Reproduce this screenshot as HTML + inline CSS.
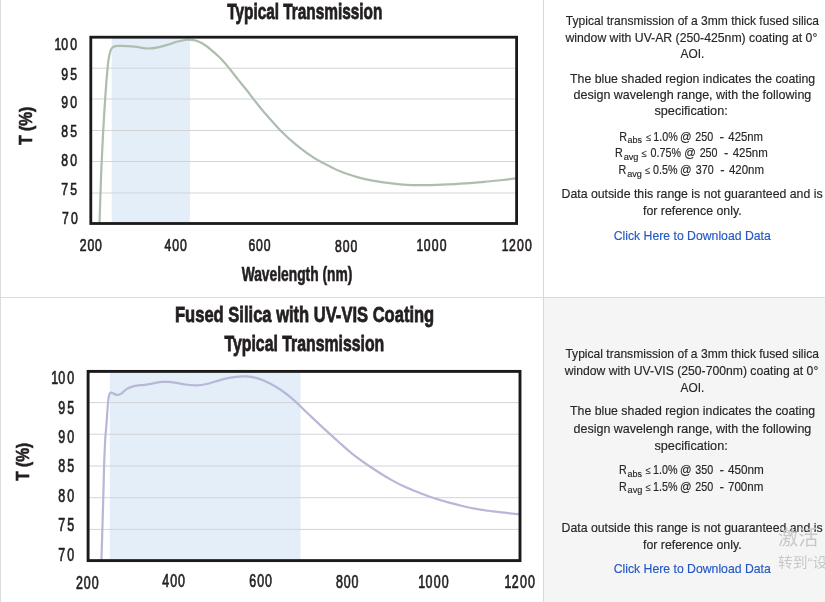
<!DOCTYPE html>
<html lang="en"><head><meta charset="utf-8"><title>Typical Transmission</title>
<style>
html,body{margin:0;padding:0;background:#fff}
body{width:825px;height:602px;position:relative;overflow:hidden;font-family:"Liberation Sans","Noto Sans CJK SC",sans-serif}
.vl,.hl,.bg{position:absolute}
.wm{position:absolute;color:#c9c9c9;white-space:nowrap;font-family:"Liberation Sans","Noto Sans CJK SC",sans-serif;line-height:1}
</style></head><body>
<div class="bg" style="left:544px;top:298px;width:281px;height:304px;background:#f5f5f5"></div>
<div class="vl" style="left:0;top:0;width:1px;height:602px;background:#dcdcdc"></div>
<div class="vl" style="left:543px;top:0;width:1px;height:602px;background:#d9d9d9"></div>
<div class="hl" style="left:0;top:297px;width:825px;height:1px;background:#dcdcdc"></div>
<svg width="544" height="602" viewBox="0 0 544 602" style="position:absolute;left:0;top:0" font-family="'Liberation Sans', sans-serif" fill="#231f20">
<rect x="111.7" y="37" width="78.2" height="186.5" fill="#e4eef8"/>
<line x1="91" y1="68.2" x2="516" y2="68.2" stroke="#d3d5d4" stroke-width="1"/>
<line x1="91" y1="99.0" x2="516" y2="99.0" stroke="#d3d5d4" stroke-width="1"/>
<line x1="91" y1="130.5" x2="516" y2="130.5" stroke="#d3d5d4" stroke-width="1"/>
<line x1="91" y1="161.5" x2="516" y2="161.5" stroke="#d3d5d4" stroke-width="1"/>
<line x1="91" y1="193.0" x2="516" y2="193.0" stroke="#d3d5d4" stroke-width="1"/>
<path d="M99.5,223.0C99.7,217.5 100.2,200.3 100.6,190.0C101.0,179.7 101.2,171.4 101.7,161.3C102.2,151.2 102.7,140.2 103.3,129.7C103.9,119.2 104.5,108.6 105.2,98.1C105.9,87.6 107.0,74.0 107.7,66.6C108.4,59.2 108.9,57.0 109.6,53.9C110.3,50.8 111.0,49.5 111.9,48.2C112.8,46.9 113.7,46.5 115.2,46.1C116.7,45.7 117.8,45.8 121.0,45.9C124.2,46.0 129.9,46.3 134.6,46.7C139.3,47.1 144.8,48.5 149.0,48.5C153.2,48.5 156.8,47.5 160.0,46.9C163.2,46.2 165.5,45.5 168.3,44.6C171.1,43.8 173.8,42.6 176.6,41.8C179.4,41.0 182.7,40.4 184.9,40.0C187.1,39.6 188.0,39.5 189.9,39.6C191.8,39.7 194.0,39.9 196.5,40.8C199.0,41.7 202.1,43.2 204.9,45.0C207.7,46.8 210.4,49.2 213.2,51.6C216.0,54.0 218.7,56.4 221.5,59.3C224.3,62.2 227.0,65.6 229.8,69.0C232.6,72.4 235.3,76.1 238.1,79.6C240.9,83.1 243.6,86.3 246.4,89.8C249.2,93.3 251.6,96.7 254.7,100.6C257.8,104.5 260.6,108.2 264.9,113.2C269.2,118.2 275.2,125.2 280.7,130.7C286.2,136.2 292.4,141.8 298.1,146.4C303.8,151.0 309.2,154.9 314.8,158.4C320.4,161.9 327.2,165.1 331.4,167.2C335.6,169.3 335.7,169.5 340.0,171.2C344.3,172.8 351.4,175.4 357.3,177.1C363.2,178.8 369.4,180.0 375.5,181.1C381.6,182.2 387.6,182.9 393.6,183.6C399.7,184.3 405.7,184.8 411.8,185.1C417.9,185.3 423.9,185.2 430.0,185.1C436.1,185.0 442.1,184.7 448.2,184.4C454.3,184.1 460.3,183.7 466.4,183.3C472.4,182.9 478.4,182.4 484.5,181.8C490.6,181.2 497.4,180.6 502.7,180.0C507.9,179.4 513.8,178.6 516.0,178.3" fill="none" stroke="#adbdae" stroke-width="2.2" stroke-linejoin="round"/>
<rect x="90.8" y="37.2" width="425.8" height="186.3" fill="none" stroke="#1a1a1a" stroke-width="2.8"/>
<text x="304.8" y="18.5" font-size="22.5" font-weight="bold" text-anchor="middle" textLength="155.2" lengthAdjust="spacingAndGlyphs" stroke="#231f20" stroke-width="0.8">Typical Transmission</text>
<text transform="translate(0,50.3) scale(0.71,1)" x="81.41 91.13 103.66" y="0" font-size="17.2" text-anchor="middle" stroke="#231f20" stroke-width="0.62" vector-effect="non-scaling-stroke">100</text>
<text transform="translate(0,79.5) scale(0.71,1)" x="91.13 103.66" y="0" font-size="17.2" text-anchor="middle" stroke="#231f20" stroke-width="0.62" vector-effect="non-scaling-stroke">95</text>
<text transform="translate(0,108.1) scale(0.71,1)" x="91.13 103.66" y="0" font-size="17.2" text-anchor="middle" stroke="#231f20" stroke-width="0.62" vector-effect="non-scaling-stroke">90</text>
<text transform="translate(0,137.2) scale(0.71,1)" x="91.13 103.66" y="0" font-size="17.2" text-anchor="middle" stroke="#231f20" stroke-width="0.62" vector-effect="non-scaling-stroke">85</text>
<text transform="translate(0,166.3) scale(0.71,1)" x="91.13 103.66" y="0" font-size="17.2" text-anchor="middle" stroke="#231f20" stroke-width="0.62" vector-effect="non-scaling-stroke">80</text>
<text transform="translate(0,195.0) scale(0.71,1)" x="91.13 103.66" y="0" font-size="17.2" text-anchor="middle" stroke="#231f20" stroke-width="0.62" vector-effect="non-scaling-stroke">75</text>
<text transform="translate(0,224.2) scale(0.71,1)" x="92.25 104.79" y="0" font-size="17.2" text-anchor="middle" stroke="#231f20" stroke-width="0.62" vector-effect="non-scaling-stroke">70</text>
<text transform="translate(0,251.4) scale(0.71,1)" x="117.04 127.89 138.73" y="0" font-size="17.2" text-anchor="middle" stroke="#231f20" stroke-width="0.62" vector-effect="non-scaling-stroke">200</text>
<text transform="translate(0,251.4) scale(0.71,1)" x="236.48 247.32 258.17" y="0" font-size="17.2" text-anchor="middle" stroke="#231f20" stroke-width="0.62" vector-effect="non-scaling-stroke">400</text>
<text transform="translate(0,251.4) scale(0.71,1)" x="354.65 365.49 376.34" y="0" font-size="17.2" text-anchor="middle" stroke="#231f20" stroke-width="0.62" vector-effect="non-scaling-stroke">600</text>
<text transform="translate(0,251.5) scale(0.71,1)" x="476.62 487.46 498.31" y="0" font-size="17.2" text-anchor="middle" stroke="#231f20" stroke-width="0.62" vector-effect="non-scaling-stroke">800</text>
<text transform="translate(0,251.4) scale(0.71,1)" x="591.55 601.55 612.82 624.08" y="0" font-size="17.2" text-anchor="middle" stroke="#231f20" stroke-width="0.62" vector-effect="non-scaling-stroke">1000</text>
<text transform="translate(0,250.6) scale(0.71,1)" x="711.55 721.55 732.82 744.08" y="0" font-size="17.2" text-anchor="middle" stroke="#231f20" stroke-width="0.62" vector-effect="non-scaling-stroke">1200</text>
<text x="297" y="281" font-size="19.3" font-weight="bold" text-anchor="middle" textLength="110.6" lengthAdjust="spacingAndGlyphs" stroke="#231f20" stroke-width="0.6">Wavelength (nm)</text>
<text x="0" y="0" font-size="17.8" font-weight="bold" text-anchor="middle" textLength="38.2" lengthAdjust="spacingAndGlyphs" stroke="#231f20" stroke-width="0.6" transform="translate(31.9,125.8) rotate(-90)">T (%)</text>
<rect x="109.8" y="371.4" width="190.7" height="189.2" fill="#e4eef8"/>
<line x1="88" y1="402.6" x2="520" y2="402.6" stroke="#d2d4d7" stroke-width="1"/>
<line x1="88" y1="434.2" x2="520" y2="434.2" stroke="#d2d4d7" stroke-width="1"/>
<line x1="88" y1="466.0" x2="520" y2="466.0" stroke="#d2d4d7" stroke-width="1"/>
<line x1="88" y1="497.7" x2="520" y2="497.7" stroke="#d2d4d7" stroke-width="1"/>
<line x1="88" y1="529.4" x2="520" y2="529.4" stroke="#d2d4d7" stroke-width="1"/>
<path d="M101.4,560.5C101.6,555.1 102.1,539.0 102.4,528.4C102.7,517.8 103.0,507.4 103.3,497.0C103.6,486.6 103.8,475.3 104.1,465.8C104.4,456.3 104.9,446.0 105.2,440.0C105.5,434.0 105.7,433.4 106.0,430.0C106.3,426.6 106.5,423.2 106.8,419.8C107.0,416.4 107.2,412.8 107.5,409.8C107.7,406.8 107.9,404.2 108.1,401.9C108.3,399.6 108.6,397.3 108.9,395.9C109.2,394.5 109.5,393.9 109.9,393.4C110.3,392.9 110.8,392.7 111.4,392.7C112.0,392.7 112.7,393.1 113.4,393.4C114.2,393.7 115.1,394.4 115.9,394.6C116.7,394.9 117.3,395.0 118.1,394.9C118.9,394.8 119.9,394.5 120.9,393.9C121.9,393.3 122.9,392.2 123.9,391.4C124.9,390.6 125.7,389.6 126.9,388.9C128.1,388.2 129.2,387.6 130.9,387.1C132.6,386.6 134.5,386.1 136.8,385.7C139.1,385.3 142.5,385.2 144.8,384.9C147.1,384.6 148.8,384.3 150.8,383.9C152.8,383.5 154.8,382.9 156.8,382.6C158.8,382.3 160.7,382.1 162.7,381.9C164.7,381.8 166.6,381.8 168.7,381.9C170.8,382.1 172.2,382.3 175.0,382.7C177.8,383.1 181.8,384.1 185.4,384.5C189.0,384.9 192.8,385.5 196.5,385.4C200.2,385.3 203.0,384.8 207.7,383.7C212.3,382.6 219.3,380.1 224.4,378.9C229.5,377.7 234.6,377.1 238.3,376.7C242.0,376.3 243.4,376.1 246.7,376.4C249.9,376.7 254.1,377.3 257.8,378.4C261.5,379.5 265.3,381.2 269.0,383.1C272.7,385.0 276.5,387.0 280.2,389.5C283.9,392.0 287.6,394.8 291.3,397.9C295.0,401.0 299.6,405.5 302.5,408.3C305.4,411.1 305.5,411.3 308.9,414.5C312.3,417.7 318.2,423.3 322.9,427.6C327.5,431.9 332.1,436.0 336.8,440.2C341.5,444.4 346.2,448.9 350.8,452.7C355.4,456.5 360.1,459.8 364.7,463.0C369.3,466.2 374.0,469.3 378.6,472.2C383.2,475.1 388.0,478.0 392.6,480.6C397.2,483.2 401.9,485.5 406.5,487.6C411.1,489.7 415.9,491.4 420.5,493.2C425.1,495.0 429.8,496.7 434.4,498.2C439.0,499.7 443.6,501.1 448.3,502.4C453.0,503.7 457.7,504.9 462.3,506.0C466.9,507.1 471.6,508.0 476.2,508.8C480.8,509.6 485.5,510.4 490.2,511.0C494.9,511.6 499.2,512.2 504.1,512.7C509.0,513.2 516.9,514.0 519.5,514.2" fill="none" stroke="#b8b7d8" stroke-width="2.2" stroke-linejoin="round"/>
<rect x="88.1" y="371.4" width="431.9" height="189.2" fill="none" stroke="#1a1a1a" stroke-width="2.9"/>
<text x="304.6" y="321.9" font-size="22.8" font-weight="bold" text-anchor="middle" textLength="259.2" lengthAdjust="spacingAndGlyphs" stroke="#231f20" stroke-width="0.8">Fused Silica with UV-VIS Coating</text>
<text x="304.4" y="351" font-size="22.8" font-weight="bold" text-anchor="middle" textLength="159.8" lengthAdjust="spacingAndGlyphs" stroke="#231f20" stroke-width="0.8">Typical Transmission</text>
<text transform="translate(0,383.8) scale(0.71,1)" x="77.06 86.93 99.65" y="0" font-size="17.5" text-anchor="middle" stroke="#231f20" stroke-width="0.62" vector-effect="non-scaling-stroke">100</text>
<text transform="translate(0,413.8) scale(0.71,1)" x="86.93 99.65" y="0" font-size="17.5" text-anchor="middle" stroke="#231f20" stroke-width="0.62" vector-effect="non-scaling-stroke">95</text>
<text transform="translate(0,443.1) scale(0.71,1)" x="86.93 99.65" y="0" font-size="17.5" text-anchor="middle" stroke="#231f20" stroke-width="0.62" vector-effect="non-scaling-stroke">90</text>
<text transform="translate(0,472.4) scale(0.71,1)" x="86.93 99.65" y="0" font-size="17.5" text-anchor="middle" stroke="#231f20" stroke-width="0.62" vector-effect="non-scaling-stroke">85</text>
<text transform="translate(0,501.9) scale(0.71,1)" x="86.93 99.65" y="0" font-size="17.5" text-anchor="middle" stroke="#231f20" stroke-width="0.62" vector-effect="non-scaling-stroke">80</text>
<text transform="translate(0,531.4) scale(0.71,1)" x="86.93 99.65" y="0" font-size="17.5" text-anchor="middle" stroke="#231f20" stroke-width="0.62" vector-effect="non-scaling-stroke">75</text>
<text transform="translate(0,561.0) scale(0.71,1)" x="86.93 99.65" y="0" font-size="17.5" text-anchor="middle" stroke="#231f20" stroke-width="0.62" vector-effect="non-scaling-stroke">70</text>
<text transform="translate(0,589.2) scale(0.71,1)" x="111.95 122.96 133.97" y="0" font-size="17.5" text-anchor="middle" stroke="#231f20" stroke-width="0.62" vector-effect="non-scaling-stroke">200</text>
<text transform="translate(0,587.2) scale(0.71,1)" x="233.50 244.51 255.51" y="0" font-size="17.5" text-anchor="middle" stroke="#231f20" stroke-width="0.62" vector-effect="non-scaling-stroke">400</text>
<text transform="translate(0,587.3) scale(0.71,1)" x="356.03 367.04 378.05" y="0" font-size="17.5" text-anchor="middle" stroke="#231f20" stroke-width="0.62" vector-effect="non-scaling-stroke">600</text>
<text transform="translate(0,588.2) scale(0.71,1)" x="478.01 489.01 500.02" y="0" font-size="17.5" text-anchor="middle" stroke="#231f20" stroke-width="0.62" vector-effect="non-scaling-stroke">800</text>
<text transform="translate(0,588.2) scale(0.71,1)" x="594.10 604.26 615.70 627.14" y="0" font-size="17.5" text-anchor="middle" stroke="#231f20" stroke-width="0.62" vector-effect="non-scaling-stroke">1000</text>
<text transform="translate(0,587.9) scale(0.71,1)" x="715.51 725.67 737.11 748.54" y="0" font-size="17.5" text-anchor="middle" stroke="#231f20" stroke-width="0.62" vector-effect="non-scaling-stroke">1200</text>
<text x="0" y="0" font-size="18.1" font-weight="bold" text-anchor="middle" textLength="38" lengthAdjust="spacingAndGlyphs" stroke="#231f20" stroke-width="0.6" transform="translate(28.6,461.7) rotate(-90)">T (%)</text>
</svg>
<svg width="281" height="602" viewBox="544 0 281 602" style="position:absolute;left:544px;top:0" font-family="'Liberation Sans', sans-serif" font-size="12.2" fill="#262626" stroke="#262626" stroke-width="0.15">
<text x="565.8" y="24.9" textLength="253.2" lengthAdjust="spacingAndGlyphs">Typical transmission of a 3mm thick fused silica</text>
<text x="565.4" y="41.6" textLength="251.9" lengthAdjust="spacingAndGlyphs">window with UV-AR (250-425nm) coating at 0°</text>
<text x="680.5" y="57.8" textLength="23.8" lengthAdjust="spacingAndGlyphs">AOI.</text>
<text x="570" y="82.7" textLength="245.2" lengthAdjust="spacingAndGlyphs">The blue shaded region indicates the coating</text>
<text x="573.5" y="98.7" textLength="237.8" lengthAdjust="spacingAndGlyphs">design wavelengh range, with the following</text>
<text x="654.5" y="115.3" textLength="73.2" lengthAdjust="spacingAndGlyphs">specification:</text>
<text x="561.5" y="198.0" textLength="261.1" lengthAdjust="spacingAndGlyphs">Data outside this range is not guaranteed and is</text>
<text x="643" y="215.0" textLength="98.6" lengthAdjust="spacingAndGlyphs">for reference only.</text>
<text x="613.7" y="240.0" textLength="157.1" lengthAdjust="spacingAndGlyphs" fill="#2458c4" stroke="#2458c4">Click Here to Download Data</text>
<text x="565.4" y="357.7" textLength="253.6" lengthAdjust="spacingAndGlyphs">Typical transmission of a 3mm thick fused silica</text>
<text x="564.7" y="374.5" textLength="253.6" lengthAdjust="spacingAndGlyphs">window with UV-VIS (250-700nm) coating at 0°</text>
<text x="680.6" y="391.5" textLength="23.7" lengthAdjust="spacingAndGlyphs">AOI.</text>
<text x="570" y="415.4" textLength="245.2" lengthAdjust="spacingAndGlyphs">The blue shaded region indicates the coating</text>
<text x="573.5" y="432.6" textLength="237.8" lengthAdjust="spacingAndGlyphs">design wavelengh range, with the following</text>
<text x="654.5" y="449.5" textLength="73.2" lengthAdjust="spacingAndGlyphs">specification:</text>
<text x="561.5" y="531.6" textLength="261.1" lengthAdjust="spacingAndGlyphs">Data outside this range is not guaranteed and is</text>
<text x="643" y="548.8" textLength="98.6" lengthAdjust="spacingAndGlyphs">for reference only.</text>
<text x="613.7" y="573.0" textLength="157.1" lengthAdjust="spacingAndGlyphs" fill="#2458c4" stroke="#2458c4">Click Here to Download Data</text>
<text x="619.24" y="140.7" textLength="7.75" lengthAdjust="spacingAndGlyphs">R</text>
<text x="627.52" y="143.3" font-size="9.6" textLength="14.36" lengthAdjust="spacingAndGlyphs">abs</text>
<text x="646.31" y="140.7" font-size="10.4" textLength="5.02" lengthAdjust="spacingAndGlyphs">≤</text>
<text x="653.24" y="140.7" textLength="24.45" lengthAdjust="spacingAndGlyphs">1.0%</text>
<text x="679.88" y="140.7" textLength="11.6" lengthAdjust="spacingAndGlyphs">@</text>
<text x="695.27" y="140.7" textLength="17.89" lengthAdjust="spacingAndGlyphs">250</text>
<text x="719.64" y="140.7" textLength="4.53" lengthAdjust="spacingAndGlyphs">-</text>
<text x="728.37" y="140.7" textLength="34.66" lengthAdjust="spacingAndGlyphs">425nm</text>
<text x="615.07" y="157.1" textLength="7.75" lengthAdjust="spacingAndGlyphs">R</text>
<text x="623.64" y="159.7" font-size="9.6" textLength="14.87" lengthAdjust="spacingAndGlyphs">avg</text>
<text x="641.85" y="157.1" font-size="10.4" textLength="5.02" lengthAdjust="spacingAndGlyphs">≤</text>
<text x="650.54" y="157.1" textLength="30.41" lengthAdjust="spacingAndGlyphs">0.75%</text>
<text x="684.15" y="157.1" textLength="11.6" lengthAdjust="spacingAndGlyphs">@</text>
<text x="699.64" y="157.1" textLength="17.89" lengthAdjust="spacingAndGlyphs">250</text>
<text x="724.1" y="157.1" textLength="4.33" lengthAdjust="spacingAndGlyphs">-</text>
<text x="732.64" y="157.1" textLength="35.05" lengthAdjust="spacingAndGlyphs">425nm</text>
<text x="618.46" y="174.1" textLength="7.75" lengthAdjust="spacingAndGlyphs">R</text>
<text x="627.13" y="176.7" font-size="9.6" textLength="14.67" lengthAdjust="spacingAndGlyphs">avg</text>
<text x="645.14" y="174.1" font-size="10.4" textLength="5.02" lengthAdjust="spacingAndGlyphs">≤</text>
<text x="653.04" y="174.1" textLength="24.45" lengthAdjust="spacingAndGlyphs">0.5%</text>
<text x="679.88" y="174.1" textLength="11.6" lengthAdjust="spacingAndGlyphs">@</text>
<text x="695.76" y="174.1" textLength="17.89" lengthAdjust="spacingAndGlyphs">370</text>
<text x="720.22" y="174.1" textLength="4.33" lengthAdjust="spacingAndGlyphs">-</text>
<text x="728.95" y="174.1" textLength="35.05" lengthAdjust="spacingAndGlyphs">420nm</text>
<text x="618.95" y="474.0" textLength="7.75" lengthAdjust="spacingAndGlyphs">R</text>
<text x="627.52" y="476.6" font-size="9.6" textLength="14.36" lengthAdjust="spacingAndGlyphs">abs</text>
<text x="645.73" y="474.0" font-size="10.4" textLength="5.02" lengthAdjust="spacingAndGlyphs">≤</text>
<text x="653.04" y="474.0" textLength="24.45" lengthAdjust="spacingAndGlyphs">1.0%</text>
<text x="679.88" y="474.0" textLength="11.6" lengthAdjust="spacingAndGlyphs">@</text>
<text x="695.27" y="474.0" textLength="17.89" lengthAdjust="spacingAndGlyphs">350</text>
<text x="719.64" y="474.0" textLength="4.53" lengthAdjust="spacingAndGlyphs">-</text>
<text x="727.98" y="474.0" textLength="35.83" lengthAdjust="spacingAndGlyphs">450nm</text>
<text x="618.95" y="490.6" textLength="7.75" lengthAdjust="spacingAndGlyphs">R</text>
<text x="627.52" y="493.2" font-size="9.6" textLength="14.87" lengthAdjust="spacingAndGlyphs">avg</text>
<text x="645.73" y="490.6" font-size="10.4" textLength="5.02" lengthAdjust="spacingAndGlyphs">≤</text>
<text x="653.04" y="490.6" textLength="24.45" lengthAdjust="spacingAndGlyphs">1.5%</text>
<text x="679.88" y="490.6" textLength="11.6" lengthAdjust="spacingAndGlyphs">@</text>
<text x="695.27" y="490.6" textLength="17.89" lengthAdjust="spacingAndGlyphs">250</text>
<text x="719.64" y="490.6" textLength="4.53" lengthAdjust="spacingAndGlyphs">-</text>
<text x="727.98" y="490.6" textLength="35.44" lengthAdjust="spacingAndGlyphs">700nm</text>
</svg>
<div class="wm" style="left:778px;top:528px;font-size:20.2px">激活<span style="margin-left:12px">Windows</span></div>
<div class="wm" style="left:778px;top:556px;font-size:14.8px;transform:scaleY(0.91);transform-origin:0 0">转到“设置”以激活 Windows。</div>
</body></html>
